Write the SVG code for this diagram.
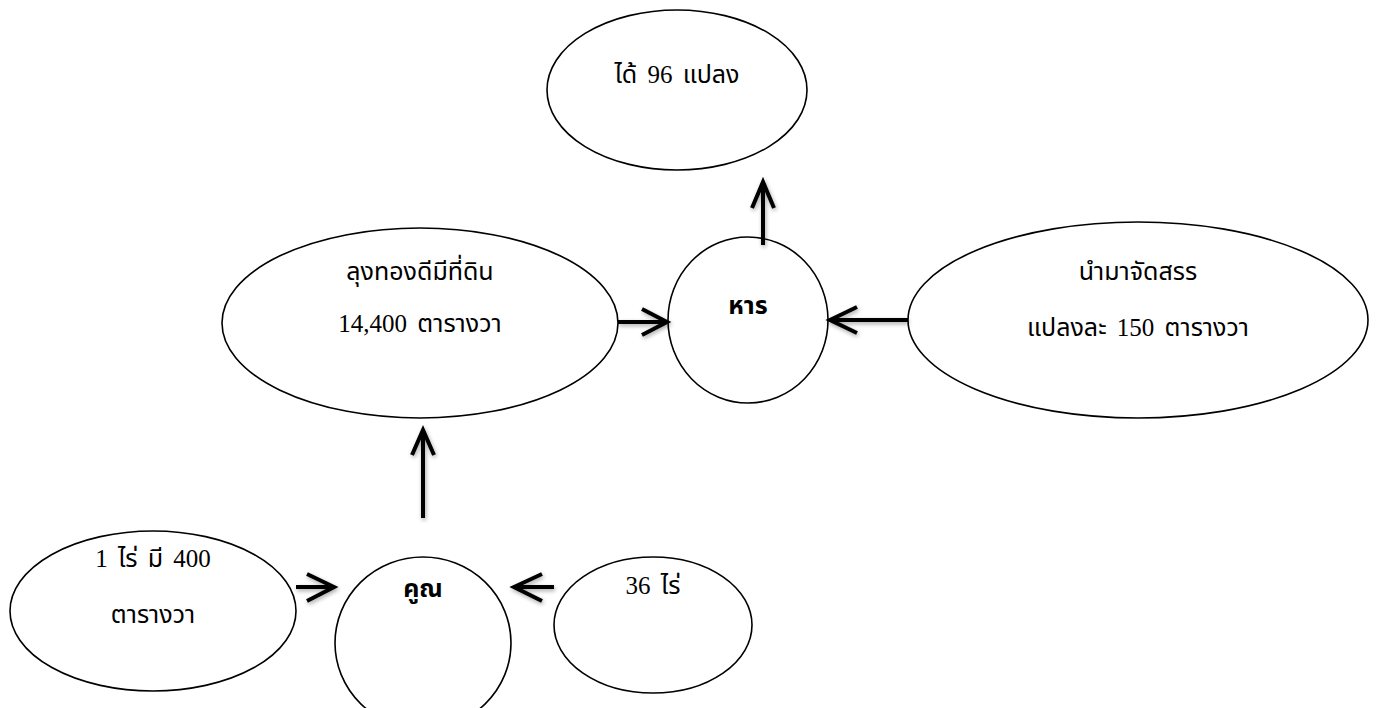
<svg xmlns="http://www.w3.org/2000/svg" width="1377" height="708" viewBox="0 0 1377 708">
<style>
.n{fill:#fff;stroke:#000;stroke-width:1.6}
.t{font-family:"Liberation Serif","Noto Sans Thai","Noto Serif Thai","DejaVu Serif",serif;font-size:25px;fill:#000;text-anchor:middle;word-spacing:4px}
.b{font-weight:bold}
.c{fill:none;stroke:#000;stroke-width:4;stroke-linecap:butt;stroke-linejoin:miter}
</style>
<defs>
<filter id="sh" x="-50%" y="-50%" width="200%" height="200%">
<feGaussianBlur in="SourceAlpha" stdDeviation="2"/>
<feOffset dx="1" dy="2" result="o"/>
<feComponentTransfer><feFuncA type="linear" slope="0.35"/></feComponentTransfer>
<feMerge><feMergeNode/><feMergeNode in="SourceGraphic"/></feMerge>
</filter>
</defs>
<rect width="1377" height="708" fill="#fff"/>
<g id="n-result">
<ellipse class="n" cx="677" cy="90" rx="130" ry="80"/>
<text class="t" x="677" y="83">ได้ 96 แปลง</text>
</g>
<g id="n-land">
<ellipse class="n" cx="420" cy="323" rx="198" ry="95"/>
<text class="t" x="420" y="280">ลุงทองดีมีที่ดิน</text>
<text class="t" x="420" y="332">14,400 ตารางวา</text>
</g>
<g id="n-div">
<ellipse class="n" cx="748" cy="320" rx="80" ry="83"/>
<text class="t b" x="748" y="314">หาร</text>
</g>
<g id="n-plot">
<ellipse class="n" cx="1138" cy="320" rx="230" ry="98"/>
<text class="t" x="1138" y="280">นำมาจัดสรร</text>
<text class="t" x="1138" y="336">แปลงละ 150 ตารางวา</text>
</g>
<g id="n-rai">
<ellipse class="n" cx="153" cy="611" rx="143" ry="80"/>
<text class="t" x="153" y="567">1 ไร่ มี 400</text>
<text class="t" x="153" y="623">ตารางวา</text>
</g>
<g id="n-mul">
<ellipse class="n" cx="423" cy="643" rx="88" ry="86"/>
<text class="t b" x="423" y="597">คูณ</text>
</g>
<g id="n-36">
<ellipse class="n" cx="653" cy="625" rx="99" ry="68"/>
<text class="t" x="653" y="594">36 ไร่</text>
</g>
<g id="connectors" filter="url(#sh)">
<path class="c" d="M423 518V430M412 455L423 430L434 455"/>
<path class="c" d="M296 587H334M307 574L334 587L307 601"/>
<path class="c" d="M554 587H514M542 574L514 587L542 601"/>
<path class="c" d="M618 322H667M642 309L667 322L642 335"/>
<path class="c" d="M908 320H830M857 307L830 320L857 333"/>
<path class="c" d="M763 245V182M752 208L763 182L774 208"/>
</g>
</svg>
